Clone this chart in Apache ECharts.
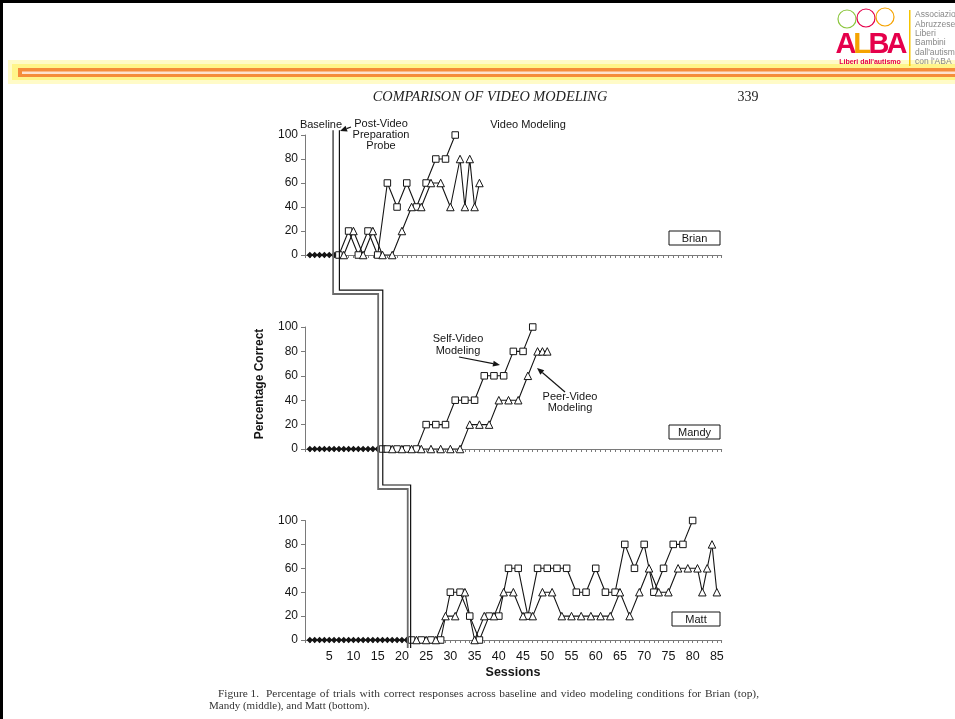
<!DOCTYPE html>
<html><head><meta charset="utf-8">
<script src="https://cdn.jsdelivr.net/npm/echarts@6/dist/echarts.min.js"></script>
<style>html,body{margin:0;padding:0;background:#fff}#c{width:955px;height:719px}</style>
</head><body><div id="c"></div>
<script>
// ---------- DATA ----------
const xTickLabels = [5,10,15,20,25,30,35,40,45,50,55,60,65,70,75,80,85];
const yTickLabels = [0,20,40,60,80,100];
const participants = ['Brian','Mandy','Matt'];

// Brian
const brianBaseSessions = [1,2,3,4,5,6];
const brianBaseValues   = [0,0,0,0,0,0];
const brianSelfSessions = [7,9,11,13,15,17,19,21,23,25,27,29,31];
const brianSelfValues   = [0,20,0,20,0,60,40,60,40,60,80,80,100];
const brianPeerSessions = [8,10,12,14,16,18,20,22,24,26,28,30,32,33,34,35,36];
const brianPeerValues   = [0,20,0,20,0,0,20,40,40,60,60,40,80,40,80,40,60];

// Mandy
const mandyBaseSessions = [1,2,3,4,5,6,7,8,9,10,11,12,13,14,15];
const mandyBaseValues   = [0,0,0,0,0,0,0,0,0,0,0,0,0,0,0];
const mandySelfSessions = [16,17,19,21,23,25,27,29,31,33,35,37,39,41,43,45,47];
const mandySelfValues   = [0,0,0,0,0,20,20,20,40,40,40,60,60,60,80,80,100];
const mandyPeerSessions = [18,20,22,24,26,28,30,32,34,36,38,40,42,44,46,48,49,50];
const mandyPeerValues   = [0,0,0,0,0,0,0,0,20,20,20,40,40,40,60,80,80,80];

// Matt
const mattBaseSessions = [1,2,3,4,5,6,7,8,9,10,11,12,13,14,15,16,17,18,19,20,21];
const mattBaseValues   = [0,0,0,0,0,0,0,0,0,0,0,0,0,0,0,0,0,0,0,0,0];
const mattSelfSessions = [22,24,26,28,30,32,34,36,38,40,42,44,46,48,50,52,54,56,58,60,62,64,66,68,70,72,74,76,78,80];
const mattSelfValues   = [0,0,0,0,40,40,20,0,20,20,60,60,20,60,60,60,60,40,40,60,40,40,80,60,80,40,60,80,80,100];
const mattPeerSessions = [23,25,27,29,31,33,35,37,39,41,43,45,47,49,51,53,55,57,59,61,63,65,67,69,71,73,75,77,79,81,82,83,84,85];
const mattPeerValues   = [0,0,0,20,20,40,0,20,20,40,40,20,20,40,40,20,20,20,20,20,20,40,20,40,60,40,40,60,60,60,40,60,80,40];

// phase-change lines (session units)
const baselineEnd = [5.8, 15.1, 21.2];
const probeAt     = [7.1, 16.05, 21.8];

// ---------- CHART ----------
const pairs = (s, v) => s.map((x, i) => [x, v[i]]);
const panels = [
  {base: pairs(brianBaseSessions, brianBaseValues), self: pairs(brianSelfSessions, brianSelfValues), peer: pairs(brianPeerSessions, brianPeerValues)},
  {base: pairs(mandyBaseSessions, mandyBaseValues), self: pairs(mandySelfSessions, mandySelfValues), peer: pairs(mandyPeerSessions, mandyPeerValues)},
  {base: pairs(mattBaseSessions, mattBaseValues), self: pairs(mattSelfSessions, mattSelfValues), peer: pairs(mattPeerSessions, mattPeerValues)}
];
const gridBoxes = [
  {left: 305, top: 135, width: 416.7, height: 120},
  {left: 305, top: 327, width: 416.7, height: 122},
  {left: 305, top: 520.5, width: 416.7, height: 119.5}
];
const FONT = 'Liberation Sans, Arial, sans-serif';
const SERIF = 'Liberation Serif, Times New Roman, serif';
const AX = '#7a7a7a';
const INK = '#151515';

const option = {
  animation: false,
  backgroundColor: '#fff',
  grid: gridBoxes.map(g => Object.assign({containLabel: false, outerBoundsMode: 'none'}, g)),
  xAxis: gridBoxes.map((g, i) => ({
    type: 'value', gridIndex: i, min: 0, max: 86, interval: 5,
    axisLine: {show: true, lineStyle: {color: AX, width: 1}},
    axisTick: {show: true, length: 3, lineStyle: {color: AX}},
    minorTick: {show: true, splitNumber: 5, length: 3, lineStyle: {color: AX}},
    splitLine: {show: false},
    axisLabel: {
      show: i === 2, margin: 10, fontFamily: FONT, fontSize: 12.5, color: INK,
      formatter: v => xTickLabels.indexOf(v) >= 0 ? String(v) : ''
    }
  })),
  yAxis: gridBoxes.map((g, i) => ({
    type: 'value', gridIndex: i, min: 0, max: 100, interval: 20,
    axisLine: {show: true, lineStyle: {color: AX, width: 1}},
    axisTick: {show: true, length: 4, lineStyle: {color: AX}},
    splitLine: {show: false},
    axisLabel: {margin: 7, fontFamily: FONT, fontSize: 12, color: INK,
      formatter: v => yTickLabels.indexOf(v) >= 0 ? String(v) : ''}
  })),
  series: []
};
panels.forEach((p, i) => {
  option.series.push({
    type: 'line', name: participants[i] + ' baseline', xAxisIndex: i, yAxisIndex: i, data: p.base,
    symbol: 'diamond', symbolSize: 6.5, itemStyle: {color: INK},
    lineStyle: {color: INK, width: 1.2}
  });
  option.series.push({
    type: 'line', name: participants[i] + ' self', xAxisIndex: i, yAxisIndex: i, data: p.self,
    symbol: 'rect', symbolSize: 6.5, itemStyle: {color: '#fff', borderColor: INK, borderWidth: 1},
    lineStyle: {color: INK, width: 1.1}
  });
  option.series.push({
    type: 'line', name: participants[i] + ' peer', xAxisIndex: i, yAxisIndex: i, data: p.peer,
    symbol: 'triangle', symbolSize: 7.5, itemStyle: {color: '#fff', borderColor: INK, borderWidth: 1},
    lineStyle: {color: INK, width: 1.1}
  });
});

const chart = echarts.init(document.getElementById('c'), null, {renderer: 'canvas'});
chart.setOption(option);

// ---------- ANNOTATIONS ----------
const px = (gi, x, y) => chart.convertToPixel({gridIndex: gi}, [x, y]);
const g = [];
function txt(x, y, s, o) {
  g.push({type: 'text', x: x, y: y, z: 20, style: Object.assign({
    text: s, fill: INK, font: '11px ' + FONT, textAlign: 'center', textVerticalAlign: 'middle'}, o || {})});
}
function arrow(x1, y1, x2, y2) {
  const a = Math.atan2(y2 - y1, x2 - x1), L = 7, W = 3;
  const bx = x2 - L * Math.cos(a), by = y2 - L * Math.sin(a);
  g.push({type: 'line', z: 20, shape: {x1: x1, y1: y1, x2: bx, y2: by}, style: {stroke: INK, lineWidth: 1.2}});
  g.push({type: 'polygon', z: 20, shape: {points: [[x2, y2],
    [bx + W * Math.sin(a), by - W * Math.cos(a)], [bx - W * Math.sin(a), by + W * Math.cos(a)]]},
    style: {fill: INK}});
}
// justified line of text (caption is justified in the source page)
const measureCtx = document.createElement('canvas').getContext('2d');
function justified(x0, x1, y, s, font, fill) {
  const words = s.split(' ');
  measureCtx.font = font;
  const widths = words.map(w => measureCtx.measureText(w).width);
  const total = widths.reduce((a, b) => a + b, 0);
  const gap = (x1 - x0 - total) / (words.length - 1);
  let x = x0;
  words.forEach((w, i) => {
    txt(x, y, w, {font: font, fill: fill, textAlign: 'left'});
    x += widths[i] + gap;
  });
}

// staircase of phase-change lines
const topY = px(0, 0, 104)[1];
const step1Hi = px(0, 0, -29.2)[1], step1Lo = px(0, 0, -32.5)[1];
const step2Hi = px(1, 0, -29.5)[1], step2Lo = px(1, 0, -32.8)[1];
const endY = px(2, 0, -6.7)[1];
const a0 = px(0, baselineEnd[0], 0)[0], a1 = px(1, baselineEnd[1], 0)[0], a2 = px(2, baselineEnd[2], 0)[0];
const b0 = px(0, probeAt[0], 0)[0], b1 = px(1, probeAt[1], 0)[0], b2 = px(2, probeAt[2], 0)[0];
g.push({type: 'polyline', z: 15, shape: {points: [[a0, topY], [a0, step1Lo], [a1, step1Lo], [a1, step2Lo], [a2, step2Lo], [a2, endY]]},
  style: {stroke: '#6a6a6a', lineWidth: 1.8, fill: null}});
g.push({type: 'polyline', z: 15, shape: {points: [[b0, topY], [b0, step1Hi], [b1, step1Hi], [b1, step2Hi], [b2, step2Hi], [b2, endY]]},
  style: {stroke: '#111', lineWidth: 1.2, fill: null}});

// panel texts
txt(321, 125, 'Baseline');
txt(381, 124, 'Post-Video');
txt(381, 135, 'Preparation');
txt(381, 146, 'Probe');
arrow(351, 127, 340, 131);
txt(528, 125, 'Video Modeling');
txt(458, 339, 'Self-Video');
txt(458, 351, 'Modeling');
arrow(459, 357, 500, 365);
txt(570, 397, 'Peer-Video');
txt(570, 408, 'Modeling');
arrow(565, 392, 537, 368);

// participant boxes
[[669, 231, 51, 14, 'Brian'], [669, 425, 51, 14, 'Mandy'], [672, 612, 48, 14, 'Matt']].forEach(b => {
  g.push({type: 'rect', z: 20, shape: {x: b[0], y: b[1], width: b[2], height: b[3]}, style: {fill: '#fff', stroke: INK, lineWidth: 1}});
  txt(b[0] + b[2] / 2, b[1] + b[3] / 2 + 0.5, b[4]);
});

// axis titles
g.push({type: 'text', z: 20, x: 260, y: 384, rotation: Math.PI / 2, style: {text: 'Percentage Correct', fill: INK,
  font: 'bold 12px ' + FONT, textAlign: 'center', textVerticalAlign: 'middle'}});
txt(513, 673, 'Sessions', {font: 'bold 12.5px ' + FONT});

// page header
g.push({type: 'rect', z: 1, shape: {x: 0, y: 0, width: 955, height: 3}, style: {fill: '#000'}});
g.push({type: 'rect', z: 1, shape: {x: 0, y: 0, width: 3, height: 719}, style: {fill: '#000'}});
g.push({type: 'rect', z: 1, shape: {x: 8, y: 60, width: 947, height: 24}, style: {fill: '#fffbc8'}});
g.push({type: 'rect', z: 1, shape: {x: 12, y: 64, width: 943, height: 16}, style: {fill: '#fff58a'}});
g.push({type: 'rect', z: 2, shape: {x: 18, y: 68, width: 937, height: 9}, style: {fill: '#f58d3a'}});
g.push({type: 'rect', z: 3, shape: {x: 22, y: 71.5, width: 933, height: 2.5}, style: {fill: '#fde3cf'}});
txt(490, 97, 'COMPARISON OF VIDEO MODELING', {font: 'italic 14.3px ' + SERIF, fill: '#222'});
txt(748, 97, '339', {font: '14px ' + SERIF, fill: '#222'});

// logo
[[847, 19, '#8cc63f'], [866, 18, '#e5004b'], [885, 17, '#f5a300']].forEach(f => {
  g.push({type: 'circle', z: 5, shape: {cx: f[0], cy: f[1], r: 9}, style: {fill: 'none', stroke: f[2], lineWidth: 1.2}});
});
txt(846, 45, 'A', {font: 'bold 29px ' + FONT, fill: '#e5004b'});
txt(862, 45, 'L', {font: 'bold 29px ' + FONT, fill: '#f5a300'});
txt(879, 45, 'B', {font: 'bold 29px ' + FONT, fill: '#e5004b'});
txt(897, 45, 'A', {font: 'bold 29px ' + FONT, fill: '#e5004b'});
txt(870, 62, "Liberi dall'autismo", {font: 'bold 7px ' + FONT, fill: '#e5004b'});
g.push({type: 'rect', z: 5, shape: {x: 909, y: 10, width: 1.5, height: 56}, style: {fill: '#f5c400'}});
["Associazione", "Abruzzese", "Liberi", "Bambini", "dall'autismo", "con l'ABA"].forEach((s, i) => {
  txt(915, 15 + i * 9.3, s, {font: '8.5px ' + FONT, fill: '#888', textAlign: 'left'});
});

// caption
const capFont = '11.4px ' + SERIF;
txt(218, 694, 'Figure 1.', {font: capFont, fill: '#333', textAlign: 'left'});
justified(266, 759, 694, 'Percentage of trials with correct responses across baseline and video modeling conditions for Brian (top),', capFont, '#333');
txt(209, 706, 'Mandy (middle), and Matt (bottom).', {font: '11px ' + SERIF, fill: '#333', textAlign: 'left'});

chart.setOption({graphic: g});
</script>
</body></html>
